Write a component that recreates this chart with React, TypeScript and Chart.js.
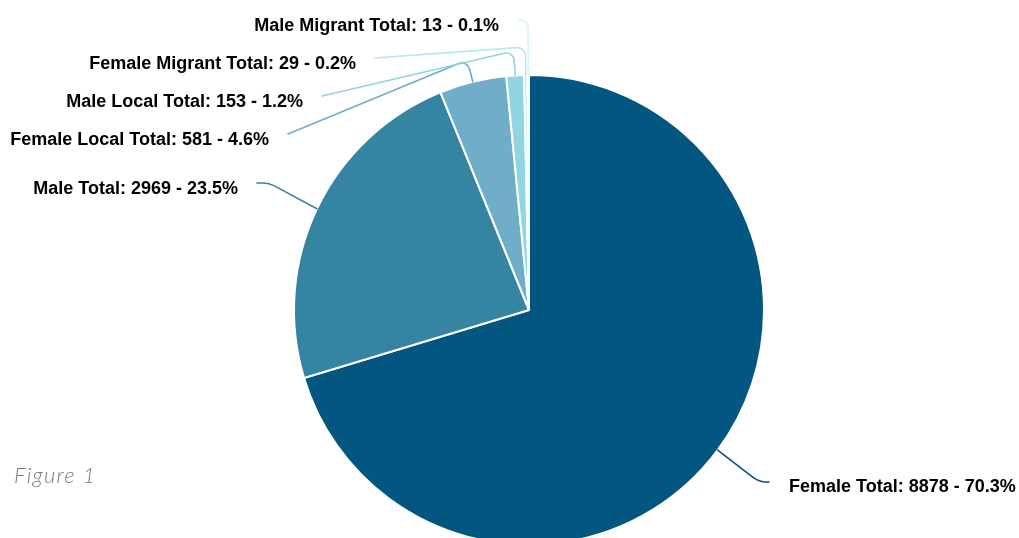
import React, { useEffect, useRef } from "react";
import { Chart, registerables } from "chart.js";

Chart.register(...registerables);

// ---- data ----
const categories = [
  "Female Total",
  "Male Total",
  "Female Local Total",
  "Male Local Total",
  "Female Migrant Total",
  "Male Migrant Total",
];
const values = [8878, 2969, 581, 153, 29, 13];
const sliceColors = ["#03567f", "#3484a2", "#6fadc9", "#91d5e1", "#b6e8f1", "#d6f4f9"];

// ---- label layout (text anchor positions) ----
type Layout = { side: "left" | "right"; x: number; y: number; elbow?: number };
const labelLayout: Layout[] = [
  { side: "right", x: 789, y: 492 },
  { side: "left", x: 238, y: 194 },
  { side: "left", x: 269, y: 145, elbow: 60 },
  { side: "left", x: 303, y: 107, elbow: 51 },
  { side: "left", x: 356, y: 69, elbow: 47 },
  { side: "left", x: 499, y: 31, elbow: 20 },
];

const labelPlugin = {
  id: "pieLabels",
  afterDatasetsDraw(chart: any) {
    const ctx = chart.ctx as CanvasRenderingContext2D;
    const meta = chart.getDatasetMeta(0);
    const total = values.reduce((a, b) => a + b, 0);
    meta.data.forEach((arc: any, i: number) => {
      const { x, y, startAngle, endAngle, outerRadius } = arc.getProps(
        ["x", "y", "startAngle", "endAngle", "outerRadius"],
        true
      );
      const mid = (startAngle + endAngle) / 2;
      const cosM = Math.cos(mid);
      const sinM = Math.sin(mid);
      const ax = x + cosM * outerRadius;
      const ay = y + sinM * outerRadius;
      const L = labelLayout[i];
      const text = `${categories[i]}: ${values[i]} - ${((values[i] / total) * 100).toFixed(1)}%`;

      ctx.save();
      ctx.strokeStyle = sliceColors[i];
      ctx.lineWidth = 1.6;
      ctx.lineCap = "round";
      ctx.lineJoin = "round";
      ctx.beginPath();
      if (L.side === "right") {
        const sx = L.x - 20;
        const sy = L.y - 10;
        ctx.moveTo(ax, ay);
        ctx.arcTo(sx - 10, sy, sx, sy, 22);
        ctx.lineTo(sx, sy);
      } else {
        const sx = L.x + 19;
        const sy = L.y - 11;
        ctx.moveTo(sx, sy);
        if (L.elbow != null) {
          const t = (L.elbow - ay) / sinM;
          const ex = ax + cosM * t;
          const ey = L.elbow;
          ctx.arcTo(ex, ey, ax, ay, 8);
        } else {
          ctx.arcTo(sx + 12, sy, ax, ay, 22);
        }
        ctx.lineTo(ax, ay);
      }
      ctx.stroke();

      ctx.fillStyle = "#000000";
      ctx.font = "bold 18px 'Liberation Sans', Arial, sans-serif";
      ctx.textBaseline = "alphabetic";
      ctx.textAlign = L.side === "right" ? "left" : "right";
      ctx.fillText(text, L.x, L.y);
      ctx.restore();
    });
  },
};

export default function App() {
  const canvasRef = useRef<HTMLCanvasElement | null>(null);

  useEffect(() => {
    if (!canvasRef.current) return;
    const chart = new Chart(canvasRef.current, {
      type: "pie",
      data: {
        labels: categories,
        datasets: [
          {
            data: values,
            backgroundColor: sliceColors,
            borderColor: "#ffffff",
            borderWidth: 2,
          },
        ],
      },
      options: {
        responsive: false,
        animation: false,
        layout: { padding: { left: 293, right: 254, top: 74, bottom: 74 } },
        plugins: {
          legend: { display: false },
          tooltip: { enabled: false },
        },
      },
      plugins: [labelPlugin],
    });
    return () => chart.destroy();
  }, []);

  return (
    <div
      style={{
        position: "absolute",
        left: 0,
        top: 0,
        width: 1019,
        height: 538,
        overflow: "hidden",
        background: "#ffffff",
      }}
    >
      <canvas
        ref={canvasRef}
        width={1019}
        height={620}
        style={{ display: "block", width: 1019, height: 620 }}
      />
      <div
        style={{
          position: "absolute",
          left: 14,
          top: 462,
          fontFamily: "Lato, 'Open Sans', sans-serif",
          fontStyle: "italic",
          fontWeight: 300,
          fontSize: 22,
          letterSpacing: "1.2px",
          lineHeight: "26px",
          color: "#7a7a7a",
        }}
      >
        Figure 1
      </div>
    </div>
  );
}
